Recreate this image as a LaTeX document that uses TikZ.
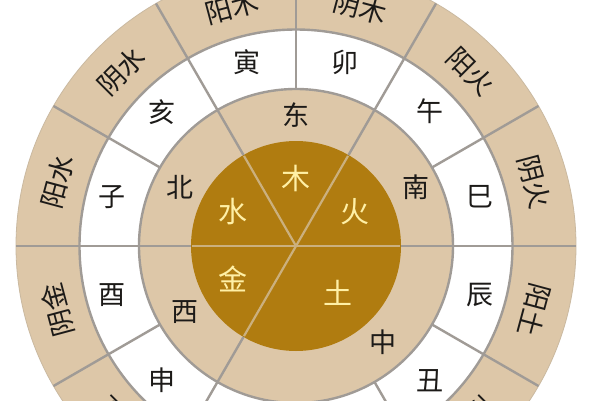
\documentclass[tikz,border=0pt]{standalone}
\usepackage{fontspec}
\newfontfamily\cjk{Noto Sans CJK SC}
\definecolor{ringtan}{HTML}{DDC7A8}
\definecolor{goldfill}{HTML}{B07C10}
\definecolor{gridgray}{HTML}{A09B96}
\definecolor{goldline}{HTML}{CBB07E}
\definecolor{goldtext}{HTML}{FFF0A6}
\definecolor{inktext}{HTML}{1C1A18}
\tikzset{
  lbl/.style={font=\cjk\fontsize{27}{30}\selectfont, text=inktext, inner sep=0pt},
  goldlbl/.style={font=\cjk\fontsize{29}{32}\selectfont, text=goldtext, inner sep=0pt},
  gridline/.style={draw=gridgray, line width=2.4pt},
  goldgrid/.style={draw=goldline, line width=2.2pt}
}
\begin{document}
\begin{tikzpicture}[x=1pt,y=1pt]
\useasboundingbox (-296,-154) rectangle (304,246);
\fill[white] (-296,-154) rectangle (304,246);
% rings
\coordinate (c) at (0,0);
\fill[ringtan] (c) circle (280);
\draw[ringtan!80!gray, line width=0.8pt] (c) circle (280);
\fill[white] (c) circle (216.5);
\fill[ringtan] (c) circle (157);
\fill[goldfill] (c) circle (105);
\draw[gridline] (c) circle (216.5);
\draw[gridline] (c) circle (157);
% radial lines through outer rings (every 30 degrees)
\foreach \a in {0,30,...,330} {
  \draw[gridline] (\a:157) -- (\a:280);
}
% lines through middle ring
\foreach \a in {0,60,120,180,240} {
  \draw[gridline] (\a:105) -- (\a:157);
}
% lines inside gold circle
\foreach \a in {0,60,120,180,240} {
  \draw[goldgrid] (c) -- (\a:104);
}
% gold labels
\node[goldlbl] (mu)   at (90:68)  {木};
\node[goldlbl] (huo)  at (30:68)  {火};
\node[goldlbl] (shui) at (151:72) {水};
\node[goldlbl] (jin)  at (208:71) {金};
\node[goldlbl] (tu)   at (-48:63) {土};
% middle ring labels
\node[lbl] (dong) at (90:131)  {东};
\node[lbl] (nan)  at (26:134)  {南};
\node[lbl] (bei)  at (153:130) {北};
\node[lbl] (xi)   at (211:129) {西};
\node[lbl] (zhong) at (-48:130) {中};
% branches
\foreach \a/\t/\n in {105/寅/yin,75/卯/mao,45/午/wu,15/巳/si,-15/辰/chen,-45/丑/chou,135/亥/hai,165/子/zi,195/酉/you,225/申/shen} {
  \node[lbl] (b\n) at (\a:190) {\t};
}
% outer labels
\foreach \a/\t/\n in {105/阳木/yin,75/阴木/mao,45/阳火/wu,15/阴火/si,-15/阳土/chen,-45/阴土/chou,135/阴水/hai,165/阳水/zi,195/阴金/you,225/阳金/shen} {
  \node[lbl, rotate=\a-90] (o\n) at (\a:247) {\t};
}
\end{tikzpicture}
\end{document}
